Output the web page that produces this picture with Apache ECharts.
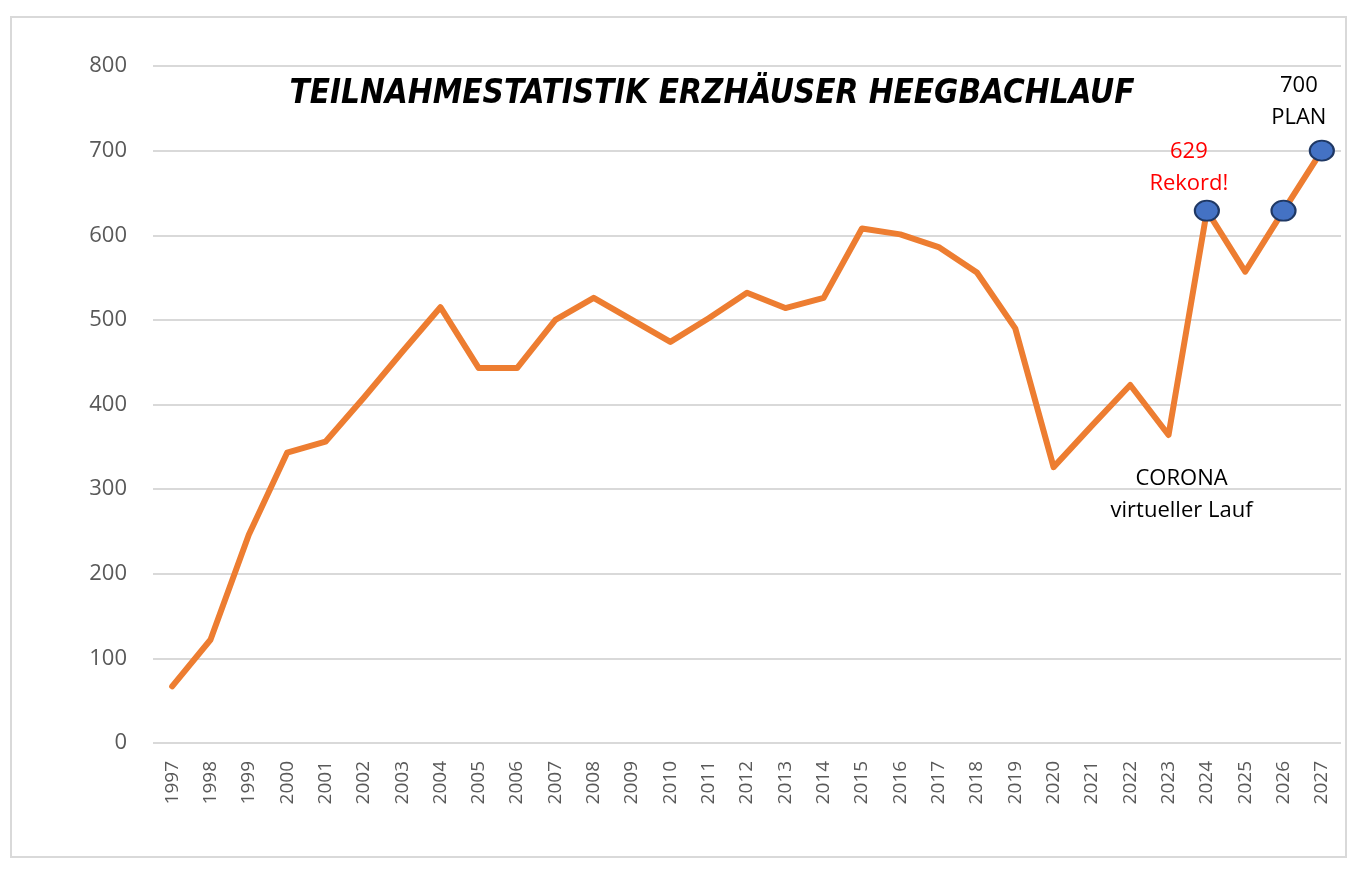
<!DOCTYPE html>
<html>
<head>
<meta charset="utf-8">
<script src="https://cdn.jsdelivr.net/npm/echarts@6/dist/echarts.min.js"></script>
<style>
  html, body { margin: 0; padding: 0; background: #fff; }
  #frame { position: absolute; left: 10px; top: 16px; width: 1333px; height: 838px; border: 2px solid #d9d9d9; }
  #chart { position: absolute; left: 0; top: 0; width: 1366px; height: 869px; }
</style>
</head>
<body>
<div id="frame"></div>
<div id="chart"></div>
<script>
// Jahre und Teilnehmerzahlen
var years = ['1997','1998','1999','2000','2001','2002','2003','2004','2005','2006',
             '2007','2008','2009','2010','2011','2012','2013','2014','2015','2016',
             '2017','2018','2019','2020','2021','2022','2023','2024','2025','2026','2027'];
var teilnehmer = [67, 122, 246, 343, 356, 408, 462, 515, 443, 443,
                  500, 526, 500, 474, 502, 532, 514, 526, 608, 601,
                  586, 556, 490, 326, 375, 423, 364, 629, 557, 629, 700];
// hervorgehobene Punkte
var markerYears = ['2024', '2026', '2027'];
var yTicks = [0, 100, 200, 300, 400, 500, 600, 700, 800];

var markerData = [];
for (var i = 0; i < years.length; i++) {
    if (markerYears.indexOf(years[i]) >= 0) {
        markerData.push([years[i], teilnehmer[i]]);
    }
}

var fontMain = '"Open Sans", "Noto Sans", sans-serif';
var eChart = echarts.init(document.getElementById('chart'));
var option = {
    animation: false,
    title: {
        text: 'TEILNAHMESTATISTIK ERZHÄUSER HEEGBACHLAUF',
        left: 707,
        top: 73,
        textAlign: 'center',
        textStyle: {
            fontFamily: '"DejaVu Sans Condensed", "DejaVu Sans", sans-serif',
            fontWeight: 'bold',
            fontStyle: 'italic',
            fontSize: 33,
            color: '#000'
        }
    },
    grid: {
        left: 153,
        right: 25,
        top: 66,
        bottom: 126
    },
    xAxis: {
        type: 'category',
        data: years,
        boundaryGap: true,
        axisLine: { show: false },
        axisTick: { show: false },
        axisLabel: {
            interval: 0,
            rotate: 90,
            margin: 18,
            color: '#595959',
            fontFamily: fontMain,
            fontSize: 19
        }
    },
    yAxis: {
        type: 'value',
        min: yTicks[0],
        max: yTicks[yTicks.length - 1],
        interval: 100,
        axisLine: { show: false },
        axisTick: { show: false },
        axisLabel: {
            margin: 26,
            color: '#595959',
            fontFamily: fontMain,
            fontSize: 22
        },
        splitLine: { lineStyle: { color: '#d9d9d9', width: 2 } }
    },
    series: [
        {
            name: 'Teilnehmer',
            type: 'line',
            data: teilnehmer,
            symbol: 'none',
            lineStyle: { color: '#ED7D31', width: 6, cap: 'round', join: 'round' },
            markPoint: {
                symbol: 'circle',
                symbolSize: 0,
                label: {
                    show: true,
                    fontFamily: fontMain,
                    fontSize: 22,
                    lineHeight: 32,
                    align: 'center'
                },
                data: [
                    { coord: ['2024', 629], label: { formatter: '629\nRekord!', color: '#ff0000', position: 'top', offset: [-18, -6] } },
                    { coord: ['2027', 700], label: { formatter: '700\nPLAN', color: '#000', position: 'top', offset: [-23, -12] } },
                    { coord: ['2023', 364], label: { formatter: 'CORONA\nvirtueller Lauf', color: '#000', position: 'bottom', offset: [13, 23] } }
                ]
            }
        },
        {
            name: 'Marker',
            type: 'scatter',
            data: markerData,
            symbol: 'circle',
            symbolSize: [24, 20],
            itemStyle: { color: '#4472C4', borderColor: '#1f3864', borderWidth: 2, opacity: 1 },
            z: 5
        }
    ]
};
eChart.setOption(option);
</script>
</body>
</html>
